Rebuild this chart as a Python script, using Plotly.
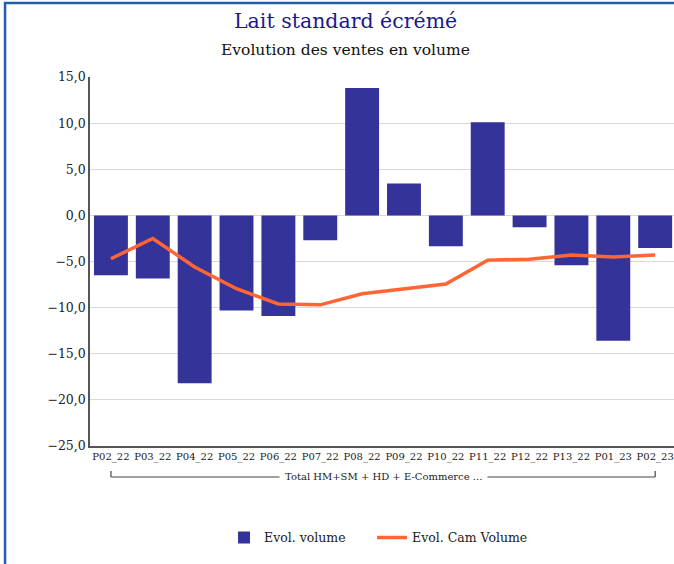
import plotly.graph_objects as go

periods = ["P02_22", "P03_22", "P04_22", "P05_22", "P06_22", "P07_22", "P08_22",
           "P09_22", "P10_22", "P11_22", "P12_22", "P13_22", "P01_23", "P02_23"]
evol_volume = [-6.5, -6.85, -18.2, -10.3, -10.9, -2.7, 13.8,
               3.45, -3.35, 10.1, -1.3, -5.4, -13.6, -3.55]
evol_cam_volume = [-4.7, -2.5, -5.6, -7.95, -9.6, -9.7, -8.5,
                   -8.0, -7.45, -4.85, -4.75, -4.3, -4.5, -4.3]
group_label = "Total HM+SM + HD + E-Commerce ..."
y_ticks = [15, 10, 5, 0, -5, -10, -15, -20, -25]

FONT = "DejaVu Serif"
idx = list(range(len(periods)))

fig = go.Figure()
fig.add_trace(go.Bar(
    x=idx, y=evol_volume, name="Evol. volume", legend="legend",
    marker=dict(color="#333399", line=dict(width=0)),
))
fig.add_trace(go.Scatter(
    x=idx, y=evol_cam_volume, name="Evol. Cam Volume", mode="lines", legend="legend2",
    line=dict(color="#FF6633", width=3.5),
))

# outer frame of the chart
fig.add_shape(type="rect", xref="paper", yref="paper",
              x0=-0.1455, x1=1.2, y0=-1.0, y1=1.2005,
              line=dict(color="#1F5FAD", width=2.5), layer="below")

# group bracket under the category labels
fig.add_shape(type="line", xref="x", yref="paper", x0=0, x1=len(periods) - 1,
              y0=-0.084, y1=-0.084, line=dict(color="#444444", width=1.2))
for xi in (0, len(periods) - 1):
    fig.add_shape(type="line", xref="x", yref="paper", x0=xi, x1=xi,
                  y0=-0.084, y1=-0.068, line=dict(color="#444444", width=1.2))
fig.add_annotation(x=(len(periods) - 1) / 2, y=-0.084, xref="x", yref="paper",
                   text=group_label, showarrow=False, bgcolor="white",
                   borderpad=5, yanchor="middle",
                   font=dict(family=FONT, size=10, color="#222222"))

# titles
fig.add_annotation(x=0.437, y=(446 - 21) / 369, xref="paper", yref="paper",
                   text="Lait standard écrémé", showarrow=False, yanchor="middle",
                   font=dict(family=FONT, size=20.5, color="#1A1A8C"))
fig.add_annotation(x=0.438, y=(446 - 50) / 369, xref="paper", yref="paper",
                   text="Evolution des ventes en volume", showarrow=False, yanchor="middle",
                   font=dict(family=FONT, size=15.5, color="#111111"))

legend_style = dict(orientation="h", xanchor="left", y=-0.249, yanchor="middle",
                    font=dict(family=FONT, size=12.5, color="#222222"),
                    itemwidth=30, bgcolor="rgba(0,0,0,0)")

fig.update_layout(
    width=674, height=564,
    margin=dict(l=90, r=0, t=77, b=118),
    paper_bgcolor="white", plot_bgcolor="white",
    separators=", ",
    bargap=0.19,
    font=dict(family=FONT, color="#222222"),
    showlegend=True,
    legend=dict(x=0.2295, **legend_style),
    legend2=dict(x=0.4829, **legend_style),
    xaxis=dict(
        tickmode="array", tickvals=idx, ticktext=periods,
        range=[-0.5, len(periods) - 0.55],
        showgrid=False, zeroline=False, ticks="",
        showline=True, linecolor="#555555", linewidth=1.5,
        tickfont=dict(family=FONT, size=10, color="#222222"),
    ),
    yaxis=dict(
        range=[-25, 15], tickvals=y_ticks, tickformat=".1f",
        showgrid=True, gridcolor="#D9D9D9", gridwidth=1.2,
        zeroline=False, ticks="",
        showline=True, linecolor="#555555", linewidth=1.5,
        tickfont=dict(family=FONT, size=12.5, color="#222222"),
    ),
)

fig.write_html("out.html")
